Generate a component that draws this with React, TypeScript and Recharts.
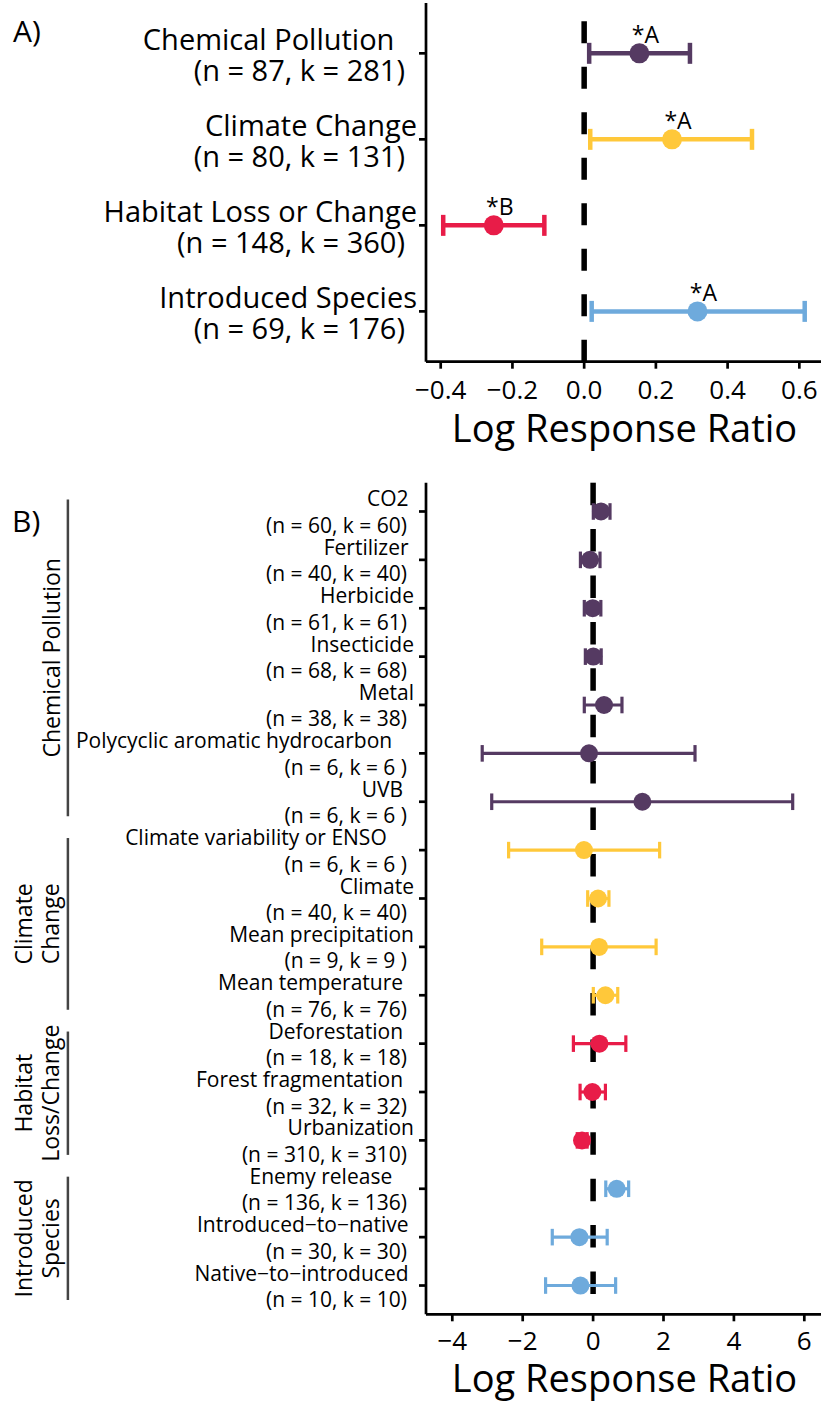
import React from 'react';
import { ScatterChart, Scatter, XAxis, YAxis, ErrorBar, ReferenceLine, Label } from 'recharts';

const FONT = "'Open Sans', 'DejaVu Sans', sans-serif";

// ---------- Panel A data ----------
const aCategories = ['Chemical Pollution   ', 'Climate Change', 'Habitat Loss or Change', 'Introduced Species'];
const aCounts = ['(n = 87, k = 281)', '(n = 80, k = 131)', '(n = 148, k = 360)', '(n = 69, k = 176)'];
const aMean = [0.154, 0.245, -0.252, 0.316];
const aLower = [0.014, 0.017, -0.393, 0.021];
const aUpper = [0.295, 0.468, -0.111, 0.615];
const aLetters = ['*A', '*A', '*B', '*A'];
const aTicks = [-0.4, -0.2, 0, 0.2, 0.4, 0.6];

const groupColors = ['#553A62', '#FFC83A', '#E81C48', '#6EAADC'];

// ---------- Panel B data ----------
const bNames = [
  'CO2 ',
  'Fertilizer ',
  'Herbicide',
  'Insecticide',
  'Metal',
  'Polycyclic aromatic hydrocarbon    ',
  'UVB  ',
  'Climate variability or ENSO     ',
  'Climate',
  'Mean precipitation',
  'Mean temperature  ',
  'Deforestation  ',
  'Forest fragmentation  ',
  'Urbanization',
  'Enemy release    ',
  'Introduced\u2212to\u2212native ',
  'Native\u2212to\u2212introduced ',
];
const bCounts = [
  '(n = 60, k = 60)',
  '(n = 40, k = 40)',
  '(n = 61, k = 61)',
  '(n = 68, k = 68)',
  '(n = 38, k = 38)',
  '(n = 6, k = 6 )',
  '(n = 6, k = 6 )',
  '(n = 6, k = 6 )',
  '(n = 40, k = 40)',
  '(n = 9, k = 9 )',
  '(n = 76, k = 76)',
  '(n = 18, k = 18)',
  '(n = 32, k = 32)',
  '(n = 310, k = 310)',
  '(n = 136, k = 136)',
  '(n = 30, k = 30)',
  '(n = 10, k = 10)',
];
const bMean = [0.224, -0.088, -0.01, 0.006, 0.31, -0.116, 1.4, -0.26, 0.14, 0.17, 0.35, 0.18, -0.02, -0.315, 0.67, -0.39, -0.36];
const bLower = [0.006, -0.36, -0.25, -0.22, -0.25, -3.15, -2.88, -2.4, -0.154, -1.46, 0.006, -0.56, -0.37, -0.45, 0.36, -1.16, -1.35];
const bUpper = [0.48, 0.196, 0.22, 0.23, 0.82, 2.895, 5.67, 1.89, 0.45, 1.79, 0.7, 0.93, 0.35, -0.17, 1.01, 0.4, 0.64];
const bGroup = [0, 0, 0, 0, 0, 0, 0, 1, 1, 1, 1, 2, 2, 2, 3, 3, 3];
const bGroupLabels = [['Chemical Pollution'], ['Climate', 'Change'], ['Habitat', 'Loss/Change'], ['Introduced', 'Species']];
const bTicks = [-4, -2, 0, 2, 4, 6];

// ---------- axis ranges ----------
const A_X_DOMAIN: [number, number] = [-0.441, 0.666];
const A_Y_DOMAIN: [number, number] = [0.415, 4.585];
const B_X_DOMAIN: [number, number] = [-4.747, 6.531];
const B_Y_DOMAIN: [number, number] = [-0.595, 16.595];
const BRACKET_X = -14.92;

const AXIS = { stroke: '#000', strokeWidth: 2.7 };

const aRows = aMean.map((m, i) => ({
  x: m,
  y: i + 1,
  err: [m - aLower[i], aUpper[i] - m],
  letter: aLetters[i],
  color: groupColors[i],
}));

const bRows = bMean.map((m, i) => ({
  x: m,
  y: i,
  err: [m - bLower[i], bUpper[i] - m],
  group: bGroup[i],
}));

const minus = (s: string) => s.replace('-', '\u2212');

const AYTick = (props: any) => {
  const { x, y, payload } = props;
  const i = Math.round(payload.value) - 1;
  return (
    <text textAnchor="end" fontFamily={FONT} fontSize={29} fill="#000" style={{ whiteSpace: 'pre' }}>
      <tspan x={x - 2} y={y - 3}>
        {aCategories[i]}
      </tspan>
      <tspan x={x - 14} y={y + 27.5}>
        {aCounts[i]}
      </tspan>
    </text>
  );
};

const BYTick = (props: any) => {
  const { x, y, payload } = props;
  const i = Math.round(payload.value);
  return (
    <text textAnchor="end" fontFamily={FONT} fontSize={21} fill="#000" style={{ whiteSpace: 'pre' }}>
      <tspan x={x - 5} y={y - 5}>
        {bNames[i]}
      </tspan>
      <tspan x={x - 12} y={y + 21.5}>
        {bCounts[i]}
      </tspan>
    </text>
  );
};

const makeXTick = (dy: number, fmt: (v: number) => string) => (props: any) => (
  <text x={props.x} y={props.y} dy={dy} textAnchor="middle" fontFamily={FONT} fontSize={26} fill="#000">
    {fmt(props.payload.value)}
  </text>
);

const AXTick = makeXTick(30.3, (v) => minus(v.toFixed(1)));
const BXTick = makeXTick(28.7, (v) => minus(String(v)));

const makeTitle = (dy: number) => (props: any) => {
  const vb = props.viewBox || { x: 426, y: 0, width: 397, height: 0 };
  return (
    <text x={vb.x + vb.width / 2} y={vb.y + dy} textAnchor="middle" fontFamily={FONT} fontSize={38} fill="#000">
      Log Response Ratio
    </text>
  );
};

const aShape = (props: any) => {
  const { cx, cy, payload } = props;
  return (
    <g>
      <circle cx={cx} cy={cy} r={10} fill={payload.color} />
      <text x={cx + 6} y={cy - 10.6} textAnchor="middle" fontFamily={FONT} fontSize={23} fill="#000">
        {payload.letter}
      </text>
    </g>
  );
};

const makeBShape = (color: string) => (props: any) => <circle cx={props.cx} cy={props.cy} r={9} fill={color} />;

const GroupLabel = (props: any) => {
  const { viewBox, lines } = props;
  if (!viewBox) return null;
  const cx = viewBox.x;
  const cy = viewBox.y + viewBox.height / 2;
  const offsets = lines.length === 1 ? [-8] : [-36, -9];
  return (
    <text
      transform={`translate(${cx},${cy}) rotate(-90)`}
      textAnchor="middle"
      fontFamily={FONT}
      fontSize={23}
      fill="#000"
    >
      {lines.map((t: string, j: number) => (
        <tspan key={j} x={0} y={offsets[j]}>
          {t}
        </tspan>
      ))}
    </text>
  );
};

export default function App() {
  return (
    <div style={{ position: 'absolute', left: 0, top: 0, width: 821, height: 1412, overflow: 'hidden', background: '#fff' }}>
      <div style={{ position: 'absolute', left: 0, top: 0 }}>
        <ScatterChart width={826} height={470} margin={{ top: 3, right: 3, bottom: 0, left: 0 }}>
          <XAxis
            type="number"
            dataKey="x"
            domain={A_X_DOMAIN}
            allowDataOverflow
            ticks={aTicks}
            interval={0}
            height={108.3}
            tickSize={7}
            tickMargin={0}
            tick={AXTick}
            axisLine={AXIS}
            tickLine={AXIS}
          >
            <Label content={makeTitle(80)} />
          </XAxis>
          <XAxis
            xAxisId="top"
            orientation="top"
            type="number"
            domain={A_X_DOMAIN}
            allowDataOverflow
            height={0}
            tick={false}
            tickLine={false}
            axisLine={AXIS}
          />
          <YAxis
            type="number"
            dataKey="y"
            domain={A_Y_DOMAIN}
            reversed
            allowDataOverflow
            ticks={[1, 2, 3, 4]}
            interval={0}
            width={426}
            tickSize={7}
            tickMargin={0}
            tick={AYTick}
            axisLine={AXIS}
            tickLine={AXIS}
          />
          <ReferenceLine
            segment={[
              { x: 0, y: A_Y_DOMAIN[1] },
              { x: 0, y: A_Y_DOMAIN[0] },
            ]}
            stroke="#000"
            strokeWidth={5.5}
            strokeDasharray="22 23.5"
          />
          {aRows.map((r, i) => (
            <Scatter key={i} data={[r]} fill={r.color} shape={aShape} isAnimationActive={false}>
              <ErrorBar dataKey="err" direction="x" width={10.5} strokeWidth={4.5} stroke={r.color} isAnimationActive={false} />
            </Scatter>
          ))}
        </ScatterChart>
      </div>

      <div style={{ position: 'absolute', left: 0, top: 470 }}>
        <ScatterChart width={826} height={942} margin={{ top: 12.7, right: 3, bottom: 0, left: 0 }}>
          <XAxis
            type="number"
            dataKey="x"
            domain={B_X_DOMAIN}
            allowDataOverflow
            ticks={bTicks}
            interval={0}
            height={97.7}
            tickSize={7}
            tickMargin={0}
            tick={BXTick}
            axisLine={AXIS}
            tickLine={AXIS}
          >
            <Label content={makeTitle(77.4)} />
          </XAxis>
          <XAxis
            xAxisId="top"
            orientation="top"
            type="number"
            domain={B_X_DOMAIN}
            allowDataOverflow
            height={0}
            tick={false}
            tickLine={false}
            axisLine={AXIS}
          />
          <YAxis
            type="number"
            dataKey="y"
            domain={B_Y_DOMAIN}
            reversed
            allowDataOverflow
            ticks={bNames.map((_, i) => i)}
            interval={0}
            width={426}
            tickSize={7}
            tickMargin={0}
            tick={BYTick}
            axisLine={AXIS}
            tickLine={AXIS}
          />
          <ReferenceLine
            segment={[
              { x: 0, y: B_Y_DOMAIN[0] },
              { x: 0, y: B_Y_DOMAIN[1] },
            ]}
            stroke="#000"
            strokeWidth={5.5}
            strokeDasharray="22.5 23.9"
          />
          {bGroupLabels.map((lines, g) => {
            const idx = bGroup.map((v, i) => (v === g ? i : -1)).filter((i) => i >= 0);
            const first = idx[0];
            const last = idx[idx.length - 1];
            return (
              <ReferenceLine
                key={'grp' + g}
                segment={[
                  { x: BRACKET_X, y: first - 0.25 },
                  { x: BRACKET_X, y: last + 0.3 },
                ]}
                ifOverflow="visible"
                stroke="#444"
                strokeWidth={2.5}
                label={<GroupLabel lines={lines} />}
              />
            );
          })}
          {groupColors.map((c, g) => (
            <Scatter
              key={'s' + g}
              data={bRows.filter((r) => r.group === g)}
              fill={c}
              shape={makeBShape(c)}
              isAnimationActive={false}
            >
              <ErrorBar dataKey="err" direction="x" width={8.3} strokeWidth={3.2} stroke={c} isAnimationActive={false} />
            </Scatter>
          ))}
        </ScatterChart>
      </div>

      <svg width={821} height={1412} style={{ position: 'absolute', left: 0, top: 0, pointerEvents: 'none' }}>
        <text x={13} y={41.7} fontFamily={FONT} fontSize={30} fill="#000">
          A)
        </text>
        <text x={12} y={531.5} fontFamily={FONT} fontSize={30} fill="#000">
          B)
        </text>
      </svg>
    </div>
  );
}
